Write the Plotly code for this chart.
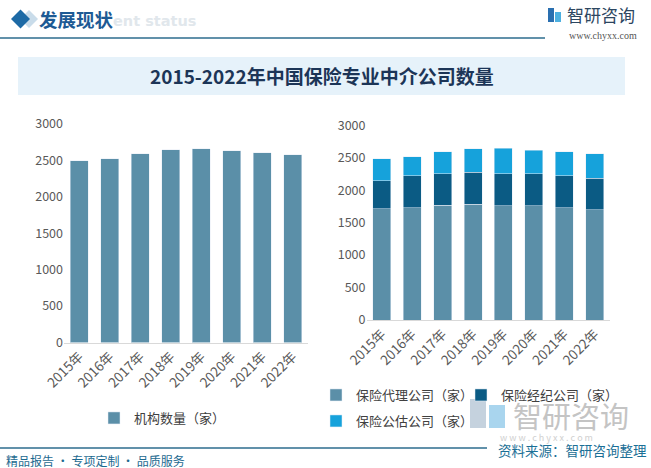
import plotly.graph_objects as go

years = ["2015年", "2016年", "2017年", "2018年", "2019年", "2020年", "2021年", "2022年"]
total = [2494, 2521, 2590, 2645, 2659, 2631, 2608, 2580]
agency = [1715, 1730, 1772, 1787, 1757, 1757, 1730, 1700]
broker = [427, 489, 478, 493, 493, 493, 489, 488]
adjuster = [339, 293, 339, 355, 400, 369, 370, 370]
yticks = [0, 500, 1000, 1500, 2000, 2500, 3000]

W, H = 651, 468
FONT = "Noto Sans CJK SC"
C1, C2, C3 = "#5b8fa8", "#0b5b84", "#16a2db"


def px(x):
    return x / W


def py(y):
    return 1 - y / H


fig = go.Figure()
fig.add_trace(go.Bar(x=years, y=total, name="机构数量（家）", marker_color=C1,
                     xaxis="x", yaxis="y", legend="legend"))
fig.add_trace(go.Bar(x=years, y=agency, name="保险代理公司（家）", marker_color=C1,
                     xaxis="x2", yaxis="y2", legend="legend2"))
fig.add_trace(go.Bar(x=years, y=broker, name="保险经纪公司（家）", marker_color=C2,
                     xaxis="x2", yaxis="y2", legend="legend3"))
fig.add_trace(go.Bar(x=years, y=adjuster, name="保险公估公司（家）", marker_color=C3,
                     xaxis="x2", yaxis="y2", legend="legend4"))

axfont = dict(family=FONT, size=13.5, color="#595959")
xcommon = dict(type="category", tickangle=-45, tickfont=axfont, showgrid=False, automargin=False,
               showline=True, linecolor="#d9d9d9", linewidth=1, ticks="", fixedrange=True)
ycommon = dict(range=[0, 3000], tickvals=yticks, tickfont=dict(family=FONT, size=12.5, color="#595959"),
               showgrid=False, showline=False, zeroline=False, ticks="", fixedrange=True, automargin=False)

leg = dict(orientation="h", bgcolor="rgba(0,0,0,0)", font=dict(family=FONT, size=13, color="#404040"),
           xanchor="left", yanchor="middle", itemclick=False)

fig.update_layout(
    width=W, height=H, margin=dict(l=0, r=0, t=0, b=0, pad=0, autoexpand=False),
    paper_bgcolor="white", plot_bgcolor="rgba(0,0,0,0)",
    barmode="stack", bargap=0.41,
    xaxis=dict(domain=[px(64), px(308)], anchor="y", **xcommon),
    yaxis=dict(domain=[py(342.5), py(124)], anchor="x", **ycommon),
    xaxis2=dict(domain=[px(366.5), px(610)], anchor="y2", **xcommon),
    yaxis2=dict(domain=[py(320), py(125.3)], anchor="x2", **ycommon),
    legend=dict(x=px(94), y=py(418), **leg),
    legend2=dict(x=px(316), y=py(395), **leg),
    legend3=dict(x=px(461), y=py(395), **leg),
    legend4=dict(x=px(316), y=py(421), **leg),
    showlegend=True,
)

shapes = []
# title banner
shapes.append(dict(type="rect", xref="paper", yref="paper", x0=px(18), x1=px(625), y0=py(95), y1=py(57),
                   fillcolor="#e6f2fa", line=dict(width=0), layer="below"))
# header diamonds
shapes.append(dict(type="path", xref="paper", yref="paper",
                   path=f"M {px(20)} {py(19)} L {px(29)} {py(10)} L {px(38)} {py(19)} L {px(29)} {py(28)} Z",
                   fillcolor="#c9dcea", line=dict(width=0)))
shapes.append(dict(type="path", xref="paper", yref="paper",
                   path=f"M {px(11)} {py(19)} L {px(20.5)} {py(9.5)} L {px(30)} {py(19)} L {px(20.5)} {py(28.5)} Z",
                   fillcolor="#1d6aa5", line=dict(width=0)))
# header line
shapes.append(dict(type="line", xref="paper", yref="paper", x0=0, x1=px(545), y0=py(38), y1=py(38),
                   line=dict(color="#2d6c8e", width=1.5)))
# footer line
shapes.append(dict(type="line", xref="paper", yref="paper", x0=0, x1=px(487), y0=py(448), y1=py(448),
                   line=dict(color="#2d6c8e", width=1.5)))
# logo icon (top-right)
shapes.append(dict(type="rect", xref="paper", yref="paper", x0=px(548), x1=px(554), y0=py(22), y1=py(8),
                   fillcolor="#2a6fb0", line=dict(width=0)))
shapes.append(dict(type="rect", xref="paper", yref="paper", x0=px(555), x1=px(561), y0=py(22), y1=py(12),
                   fillcolor="#4db0e0", line=dict(width=0)))
# watermark logo icon (bottom-right)
shapes.append(dict(type="rect", xref="paper", yref="paper", x0=px(470), x1=px(486), y0=py(428), y1=py(399),
                   fillcolor="#c5d2de", line=dict(width=0), layer="below"))
shapes.append(dict(type="rect", xref="paper", yref="paper", x0=px(489), x1=px(505), y0=py(428), y1=py(405),
                   fillcolor="#a9d5ee", line=dict(width=0), layer="below"))
fig.update_layout(shapes=shapes)

ann = []


def text(x, y, s, size, color, anchor="left", bold=False, family=FONT, **kw):
    ann.append(dict(x=px(x), y=py(y), xref="paper", yref="paper", text=(f"<b>{s}</b>" if bold else s),
                    showarrow=False, xanchor=anchor, yanchor="middle",
                    font=dict(family=family, size=size, color=color), **kw))


text(111, 21, "ent status", 14.5, "#e1e7ec", bold=True, family="DejaVu Sans")
text(37, 19, "发展现状", 18.5, "#1d5a94", bold=True)
text(565, 15, "智研咨询", 17, "#2c4660")
text(567, 36, "www.chyxx.com", 10, "#555555", family="Liberation Serif")
text(322, 76, "2015-2022年中国保险专业中介公司数量", 19, "#1c3557", anchor="center", bold=True)
text(511, 415, "智研咨询", 29, "#c4c4c4")
text(498, 437, "w w w . c h y x x . c o m", 9, "#d0d0d0")
text(649, 450, "资料来源：智研咨询整理", 13.5, "#1b6f96", anchor="right")
text(4, 460, "精品报告 · 专项定制 · 品质服务", 12, "#1d6a90")
fig.update_layout(annotations=ann)

fig.write_html("out.html", config={"displayModeBar": False},
               post_script="document.body.style.margin='0px';")
